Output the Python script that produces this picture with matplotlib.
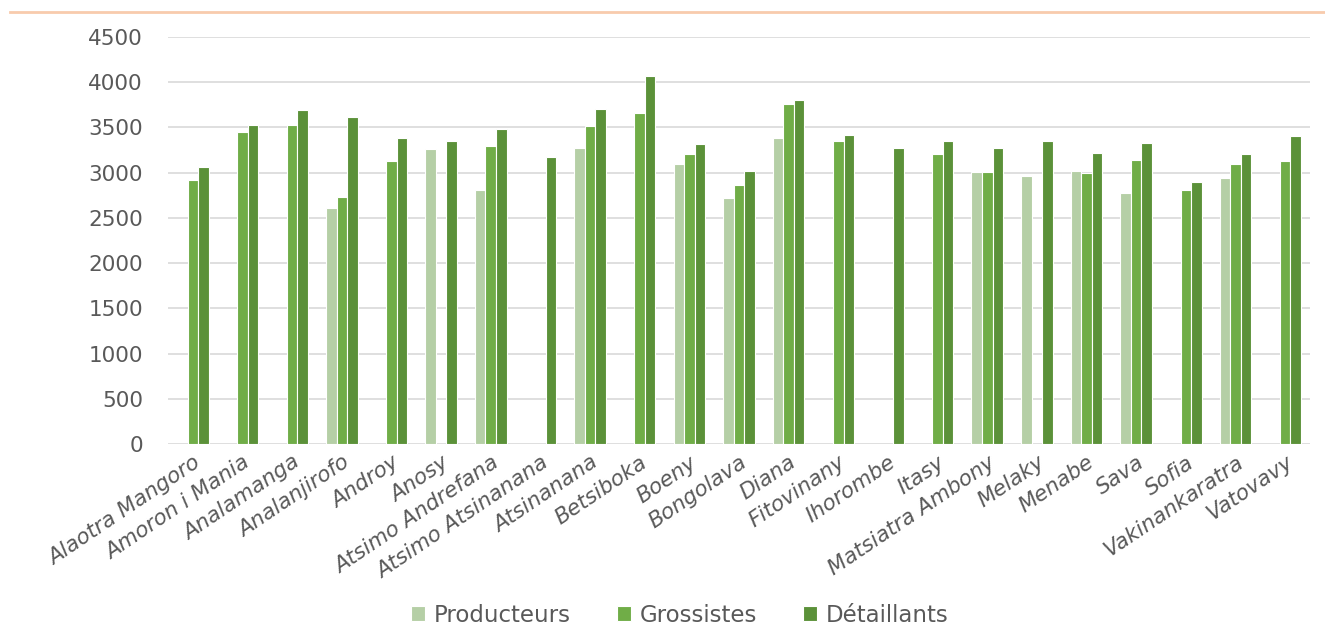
import numpy as np
import matplotlib.pyplot as plt
from matplotlib.lines import Line2D

plt.rcParams['font.family'] = ['DejaVu Sans']

regions = ['Alaotra Mangoro', 'Amoron i Mania', 'Analamanga', 'Analanjirofo', 'Androy',
           'Anosy', 'Atsimo Andrefana', 'Atsimo Atsinanana', 'Atsinanana', 'Betsiboka',
           'Boeny', 'Bongolava', 'Diana', 'Fitovinany', 'Ihorombe', 'Itasy',
           'Matsiatra Ambony', 'Melaky', 'Menabe', 'Sava', 'Sofia', 'Vakinankaratra', 'Vatovavy']

nan = np.nan
producteurs = [nan, nan, nan, 2604, nan, 3261, 2804, nan, 3272, nan, 3095, 2723, 3383, nan,
               nan, nan, 3010, 2966, 3021, 2774, nan, 2936, nan]
grossistes = [2918, 3449, 3527, 2730, 3128, nan, 3298, nan, 3512, 3659, 3202, 2863, 3763, 3353,
              nan, 3202, 3010, nan, 2999, 3143, 2811, 3099, 3128]
detaillants = [3066, 3530, 3689, 3615, 3383, 3353, 3479, 3176, 3707, 4073, 3320, 3021, 3803, 3420,
               3268, 3350, 3276, 3353, 3221, 3328, 2896, 3202, 3401]

series = [('Producteurs', producteurs, '#b5cfa6'),
          ('Grossistes', grossistes, '#70ad47'),
          ('Détaillants', detaillants, '#5b9139')]

fig = plt.figure(figsize=(13.25, 6.34), dpi=100)
ax = fig.add_axes([168 / 1325, 1 - 444 / 634, (1310 - 168) / 1325, (444 - 37) / 634])

x = np.arange(len(regions))
step = 0.212
for i, (name, vals, col) in enumerate(series):
    ax.bar(x + (i - 1) * step, vals, width=step, color=col, edgecolor='white',
           linewidth=0.8, label=name, zorder=3)

ax.set_xlim(-0.5, len(regions) - 0.5)
ax.set_ylim(0, 4500)
ax.set_yticks(range(0, 4501, 500))
ax.grid(axis='y', color='#d9d9d9', linewidth=1.2, zorder=0)
for s in ax.spines.values():
    s.set_visible(False)
ax.tick_params(length=0, colors='#595959')
ax.tick_params(axis='y', labelsize=15.5, pad=18)
ax.set_xticks(x)
ax.set_xticklabels(regions, rotation=34, ha='right', rotation_mode='anchor',
                   fontsize=15.5, style='italic', color='#595959')
ax.tick_params(axis='x', pad=6)

ax.legend(loc='center', bbox_to_anchor=(680 / 1325, (634 - 615) / 634), bbox_transform=fig.transFigure,
          ncol=3, frameon=False, fontsize=16.5, labelcolor='#595959',
          handlelength=0.6, handleheight=0.6, columnspacing=2.0, handletextpad=0.4)

fig.add_artist(Line2D([10 / 1325, 1], [1 - 12 / 634, 1 - 12 / 634], color='#f8cbad', linewidth=2))

fig.savefig('out.png', dpi=100)
